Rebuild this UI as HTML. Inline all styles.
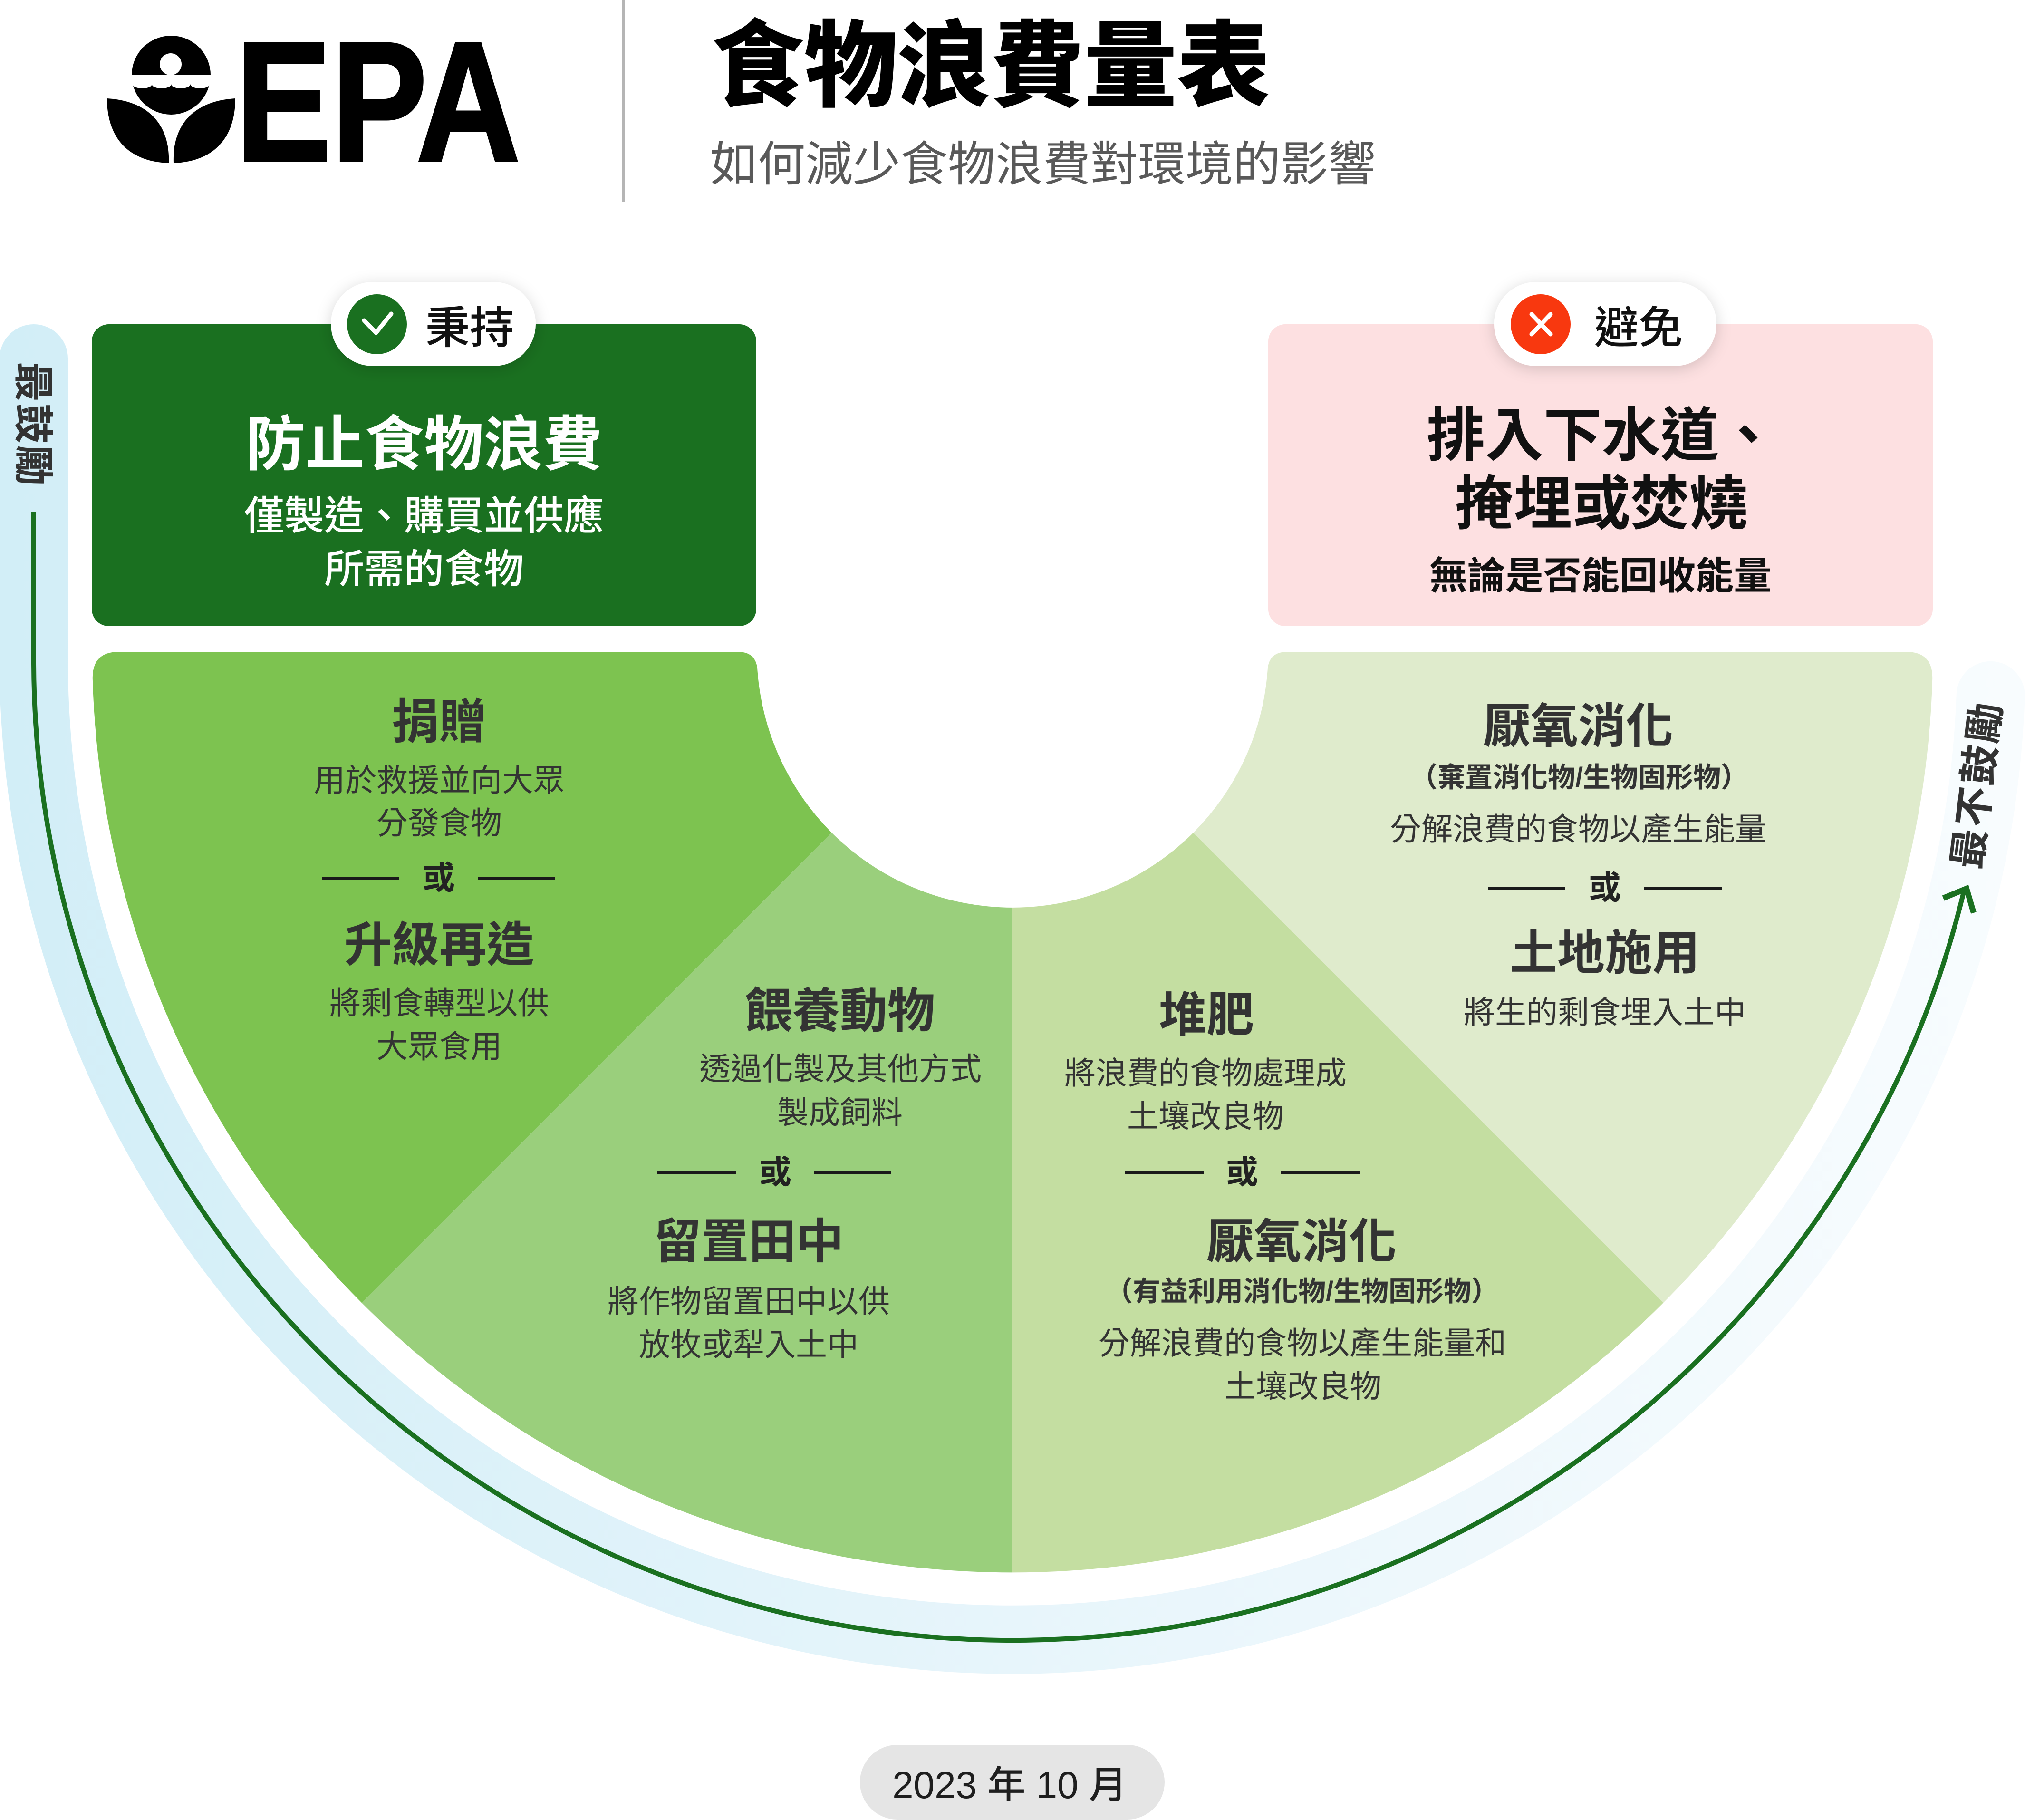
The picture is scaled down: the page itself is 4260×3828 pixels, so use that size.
<!DOCTYPE html>
<html>
<head>
<meta charset="utf-8">
<style>
html,body{margin:0;padding:0;background:#fff;}
svg{display:block;}
text{font-family:"Liberation Sans","Noto Sans CJK TC",sans-serif;}
.t{font-weight:700;fill:#333;font-size:100px;text-anchor:middle;}
.b{font-weight:400;fill:#333;font-size:66px;text-anchor:middle;}
.o{font-weight:700;fill:#222;font-size:68px;text-anchor:middle;}
.p{font-weight:700;fill:#333;font-size:58px;text-anchor:middle;}
</style>
</head>
<body>
<svg width="4260" height="3828" viewBox="0 0 4260 3828" xmlns="http://www.w3.org/2000/svg">
<defs>
  <linearGradient id="bandg" gradientUnits="userSpaceOnUse" x1="0" y1="0" x2="4260" y2="0">
    <stop offset="0" stop-color="#d2eef7"/>
    <stop offset="0.5" stop-color="#e7f5fb"/>
    <stop offset="1" stop-color="#f8fcfe"/>
  </linearGradient>
  <clipPath id="semi">
    <path d="M 250 1371 L 1552 1371 Q 1592 1371 1593.5 1411 A 538 538 0 0 0 2666.5 1411 Q 2668 1371 2708 1371 L 4010 1371 Q 4066 1371 4065.2 1427 A 1936 1936 0 0 1 194.8 1427 Q 194 1371 250 1371 Z"/>
  </clipPath>
  <filter id="sh" x="-30%" y="-60%" width="160%" height="220%">
    <feDropShadow dx="0" dy="6" stdDeviation="16" flood-color="#000" flood-opacity="0.16"/>
  </filter>
</defs>

<!-- EPA logo -->
<g fill="#000">
  <circle cx="360" cy="158" r="83"/>
  <rect x="270" y="158" width="180" height="19" fill="#fff"/>
  <ellipse cx="299.3" cy="177" rx="20.25" ry="9" fill="#fff"/>
  <ellipse cx="339.8" cy="177" rx="20.25" ry="9" fill="#fff"/>
  <ellipse cx="380.3" cy="177" rx="20.25" ry="9" fill="#fff"/>
  <ellipse cx="420.8" cy="177" rx="20.25" ry="9" fill="#fff"/>
  <circle cx="359" cy="135" r="23" fill="#fff"/>
  <path d="M 225 207 C 225 290, 270 340, 355 343 C 358 260, 310 212, 225 207 Z"/>
  <path d="M 495 207 C 495 290, 450 340, 365 343 C 362 260, 410 212, 495 207 Z"/>
</g>
<text x="496" y="337" font-size="357" font-weight="700" fill="#000" stroke="#000" stroke-width="6" textLength="598" lengthAdjust="spacingAndGlyphs" style="font-family:'Liberation Sans',sans-serif;">EPA</text>

<!-- divider -->
<line x1="1312" y1="0" x2="1312" y2="425" stroke="#b5b5b5" stroke-width="6"/>

<!-- title -->
<text x="1496" y="208" font-size="198" font-weight="900" fill="#000" textLength="1176" lengthAdjust="spacingAndGlyphs">食物浪費量表</text>
<text x="1494" y="380" font-size="100" font-weight="400" fill="#595959">如何減少食物浪費對環境的影響</text>

<!-- band -->
<path d="M 71 754 L 71 1391 A 2059 2059 0 0 0 4187.7 1462.9" fill="none" stroke="url(#bandg)" stroke-width="144" stroke-linecap="round"/>

<!-- semicircle wedges -->
<g clip-path="url(#semi)">
  <polygon points="2130,1371 -370,1371 -370,3871" fill="#7dc350"/>
  <polygon points="2130,1371 -370,3871 2130,3871" fill="#9acf7c"/>
  <polygon points="2130,1371 2130,3871 4630,3871" fill="#c4dea1"/>
  <polygon points="2130,1371 4630,3871 4630,1371" fill="#dfebcc"/>
</g>

<!-- green line & arrow -->
<path d="M 71 1076 L 71 1391 A 2059 2059 0 0 0 4133 1868" fill="none" stroke="#1a7020" stroke-width="10"/>
<polyline points="4088,1889 4137,1869 4152,1920" fill="none" stroke="#1a7020" stroke-width="12" stroke-linejoin="miter" stroke-miterlimit="10"/>

<!-- side labels -->
<text transform="translate(71,893) rotate(90)" x="0" y="31" font-size="84" font-weight="700" fill="#333" text-anchor="middle" letter-spacing="4">最鼓勵</text>
<text transform="translate(4158,1650) rotate(-82.9)" x="0" y="31" font-size="84" font-weight="700" fill="#333" text-anchor="middle" letter-spacing="5">最不鼓勵</text>

<!-- green box -->
<rect x="193" y="682" width="1398" height="635" rx="36" fill="#1a7020"/>
<text x="892" y="978" font-size="125" font-weight="700" fill="#fff" text-anchor="middle">防止食物浪費</text>
<text x="892" y="1114" font-size="84" font-weight="500" fill="#fff" text-anchor="middle">僅製造、購買並供應</text>
<text x="892" y="1226" font-size="84" font-weight="500" fill="#fff" text-anchor="middle">所需的食物</text>

<!-- green badge -->
<rect x="696" y="593" width="431" height="177" rx="88.5" fill="#fff" filter="url(#sh)"/>
<circle cx="793" cy="682" r="63" fill="#1a7020"/>
<polyline points="766,674 791,700 823,660" fill="none" stroke="#fff" stroke-width="9" stroke-linecap="round" stroke-linejoin="round"/>
<text x="895" y="722" font-size="93" font-weight="500" fill="#111">秉持</text>

<!-- pink box -->
<rect x="2668" y="682" width="1398" height="635" rx="36" fill="#fde0e1"/>
<text x="3370" y="958" font-size="123" font-weight="700" fill="#111" text-anchor="middle">排入下水道、</text>
<text x="3369" y="1102" font-size="123" font-weight="700" fill="#111" text-anchor="middle">掩埋或焚燒</text>
<text x="3367" y="1239" font-size="80" font-weight="700" fill="#111" text-anchor="middle">無論是否能回收能量</text>

<!-- pink badge -->
<rect x="3143" y="593" width="468" height="177" rx="88.5" fill="#fff" filter="url(#sh)"/>
<circle cx="3241" cy="682" r="63" fill="#f8380f"/>
<line x1="3222" y1="661" x2="3262" y2="703" stroke="#fff" stroke-width="9" stroke-linecap="round"/>
<line x1="3262" y1="661" x2="3222" y2="703" stroke="#fff" stroke-width="9" stroke-linecap="round"/>
<text x="3354" y="722" font-size="93" font-weight="500" fill="#111">避免</text>

<!-- wedge 1 -->
<text class="t" x="924" y="1553">捐贈</text>
<text class="b" x="924" y="1664">用於救援並向大眾</text>
<text class="b" x="924" y="1754">分發食物</text>
<line x1="677" y1="1848" x2="839" y2="1848" stroke="#1a1a1a" stroke-width="6"/>
<line x1="1005" y1="1848" x2="1167" y2="1848" stroke="#1a1a1a" stroke-width="6"/>
<text class="o" x="923" y="1870">或</text>
<text class="t" x="924" y="2022">升級再造</text>
<text class="b" x="924" y="2133">將剩食轉型以供</text>
<text class="b" x="924" y="2224">大眾食用</text>

<!-- wedge 2 -->
<text class="t" x="1767" y="2161">餵養動物</text>
<text class="b" x="1768" y="2271">透過化製及其他方式</text>
<text class="b" x="1767" y="2363">製成飼料</text>
<line x1="1383" y1="2467" x2="1548" y2="2467" stroke="#1a1a1a" stroke-width="6"/>
<line x1="1712" y1="2467" x2="1875" y2="2467" stroke="#1a1a1a" stroke-width="6"/>
<text class="o" x="1631" y="2489">或</text>
<text class="t" x="1575" y="2646">留置田中</text>
<text class="b" x="1575" y="2760">將作物留置田中以供</text>
<text class="b" x="1575" y="2851">放牧或犁入土中</text>

<!-- wedge 3 -->
<text class="t" x="2538" y="2169">堆肥</text>
<text class="b" x="2536" y="2280">將浪費的食物處理成</text>
<text class="b" x="2536" y="2371">土壤改良物</text>
<line x1="2367" y1="2467" x2="2532" y2="2467" stroke="#1a1a1a" stroke-width="6"/>
<line x1="2694" y1="2467" x2="2860" y2="2467" stroke="#1a1a1a" stroke-width="6"/>
<text class="o" x="2613" y="2489">或</text>
<text class="t" x="2738" y="2646">厭氧消化</text>
<text class="p" x="2739" y="2736">（有益利用消化物/生物固形物）</text>
<text class="b" x="2740" y="2848">分解浪費的食物以產生能量和</text>
<text class="b" x="2741" y="2939">土壤改良物</text>

<!-- wedge 4 -->
<text class="t" x="3320" y="1562">厭氧消化</text>
<text class="p" x="3322" y="1655">（棄置消化物/生物固形物）</text>
<text class="b" x="3320" y="1767">分解浪費的食物以產生能量</text>
<line x1="3131" y1="1869" x2="3293" y2="1869" stroke="#1a1a1a" stroke-width="6"/>
<line x1="3459" y1="1869" x2="3622" y2="1869" stroke="#1a1a1a" stroke-width="6"/>
<text class="o" x="3376" y="1891">或</text>
<text class="t" x="3376" y="2039">土地施用</text>
<text class="b" x="3376" y="2152">將生的剩食埋入土中</text>

<!-- date pill -->
<rect x="1809" y="3670" width="641" height="157" rx="78.5" fill="#e5e5e5"/>
<text x="2124" y="3782" font-size="80" font-weight="500" fill="#1e1e1e" text-anchor="middle">2023 年 10 月</text>
</svg>
</body>
</html>
